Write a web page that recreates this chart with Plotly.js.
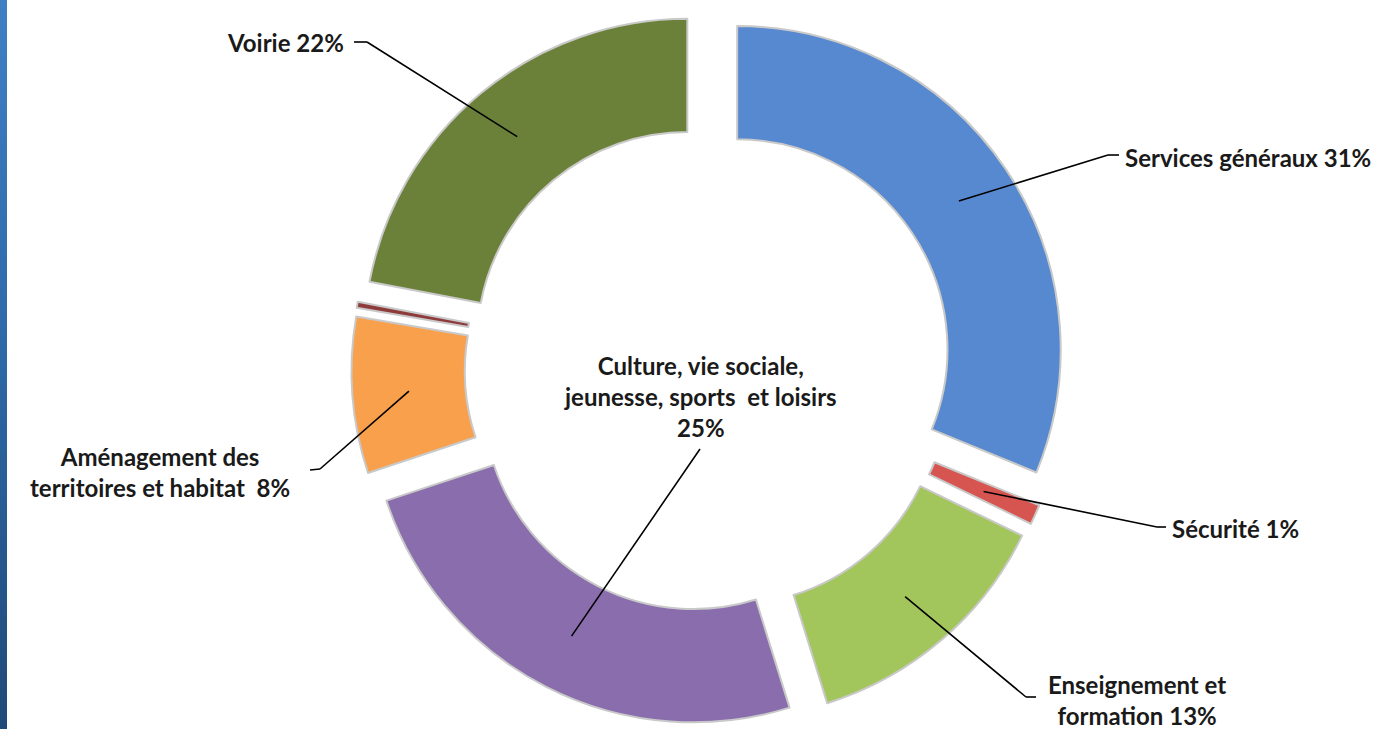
<!DOCTYPE html>
<html>
<head>
<meta charset="utf-8">
<script src="https://cdn.plot.ly/plotly-3.0.1.min.js"></script>
<style>
  html, body { margin: 0; padding: 0; background: #ffffff; overflow: hidden; }
  #stripe { position: absolute; left: 0; top: 0; width: 7px; height: 729px;
            background: linear-gradient(to bottom, #3f7fc4 0%, #2f6aaa 45%, #1f4a78 100%); z-index: 5; }
  #chart { position: absolute; left: 0; top: 0; width: 1390px; height: 729px; }
</style>
</head>
<body>
<div id="stripe"></div>
<div id="chart"></div>
<script>
// ---- data ----
const categories = [
  'Services généraux',
  'Sécurité',
  'Enseignement et formation',
  'Culture, vie sociale, jeunesse, sports et loisirs',
  'Aménagement des territoires et habitat',
  'Autres',
  'Voirie'
];
const values = [31.2, 1.0, 13.0, 24.7, 7.8, 0.3, 22.0];
const labelLines = [
  'Services généraux',
  'Sécurité',
  'Enseignement et<br>formation',
  'Culture, vie sociale,<br>jeunesse, sports  et loisirs<br>',
  'Aménagement des<br>territoires et habitat ',
  '',
  'Voirie'
];
const colors = ['#5689cf', '#d65550', '#a3c65c', '#8a6dad', '#f9a04c', '#8e3b3b', '#6b8139'];
const pulls = [0.105, 0.105, 0.105, 0.105, 0.105, 0.105, 0.105];

// ---- layout constants ----
const W = 1390, H = 729;
const M = {l: 0, r: 0, t: 11, b: 3};
const HOLE = 0.65;
const DOM_X = [0.2223, 0.7978];
const FONT = 'Lato, "Open Sans", sans-serif';
const FSIZE = 24;

const plotW = W - M.l - M.r, plotH = H - M.t - M.b;
const cx = M.l + plotW * (DOM_X[0] + DOM_X[1]) / 2;
const cy = M.t + plotH / 2;
const maxPull = Math.max(...pulls);
const R = Math.min(plotW * (DOM_X[1] - DOM_X[0]), plotH) / 2 / (1 + maxPull);
const rIn = R * HOLE;

function toPaper(px, py) { return [(px - M.l) / plotW, 1 - (py - M.t) / plotH]; }

const total = values.reduce((a, b) => a + b, 0);
let acc = 0;
const tips = values.map((v, i) => {
  const mid = (acc + v / 2) / total * 2 * Math.PI;
  acc += v;
  const d = (R + rIn) / 2 + pulls[i] * R;
  return [cx + d * Math.sin(mid), cy - d * Math.cos(mid)];
});

// label placement (pixels): text anchor, and leader line path points
const place = [
  {x: 1123, y: 157, xa: 'left',   path: [[1108, 155], [1119, 155]]},
  {x: 1170, y: 528, xa: 'left',   path: [[1157, 527], [1166, 527]]},
  {x: 1137, y: 700, xa: 'center', path: [[1026, 697], [1036, 697]]},
  {x: 700,  y: 397, xa: 'center', path: [[700, 449]]},
  {x: 160,  y: 472, xa: 'center', path: [[320, 469], [310, 470]]},
  null,
  {x: 346,  y: 42,  xa: 'right',  path: [[367, 42], [354, 42]]}
];

const annotations = [];
const shapes = [];
place.forEach((p, i) => {
  if (!p) return;
  const pct = Math.round(values[i] / total * 100);
  const sep = labelLines[i].endsWith('<br>') ? '' : ' ';
  const txt = labelLines[i] + sep + pct + '%';
  const [ax, ay] = toPaper(p.x, p.y);
  annotations.push({
    xref: 'paper', yref: 'paper', x: ax, y: ay, xanchor: p.xa, yanchor: 'middle',
    text: '<b>' + txt + '</b>', showarrow: false, align: 'center',
    font: {family: FONT, size: FSIZE, color: '#1a1a1a'}
  });
  const pts = [tips[i]].concat(p.path);
  for (let k = 0; k < pts.length - 1; k++) {
    const a = toPaper(pts[k][0], pts[k][1]);
    const b = toPaper(pts[k + 1][0], pts[k + 1][1]);
    shapes.push({type: 'line', xref: 'paper', yref: 'paper',
      x0: a[0], y0: a[1], x1: b[0], y1: b[1],
      line: {color: '#000000', width: 1.6}});
  }
});

const trace = {
  type: 'pie',
  labels: categories,
  values: values,
  hole: HOLE,
  pull: pulls,
  sort: false,
  direction: 'clockwise',
  rotation: 0,
  textinfo: 'none',
  hoverinfo: 'none',
  showlegend: false,
  domain: {x: DOM_X, y: [0, 1]},
  marker: {colors: colors, line: {color: '#c9c9c9', width: 2}}
};

Plotly.newPlot('chart', [trace], {
  width: W, height: H,
  margin: M,
  paper_bgcolor: '#ffffff',
  plot_bgcolor: '#ffffff',
  showlegend: false,
  annotations: annotations,
  shapes: shapes
}, {displayModeBar: false, staticPlot: true});
</script>
</body>
</html>
